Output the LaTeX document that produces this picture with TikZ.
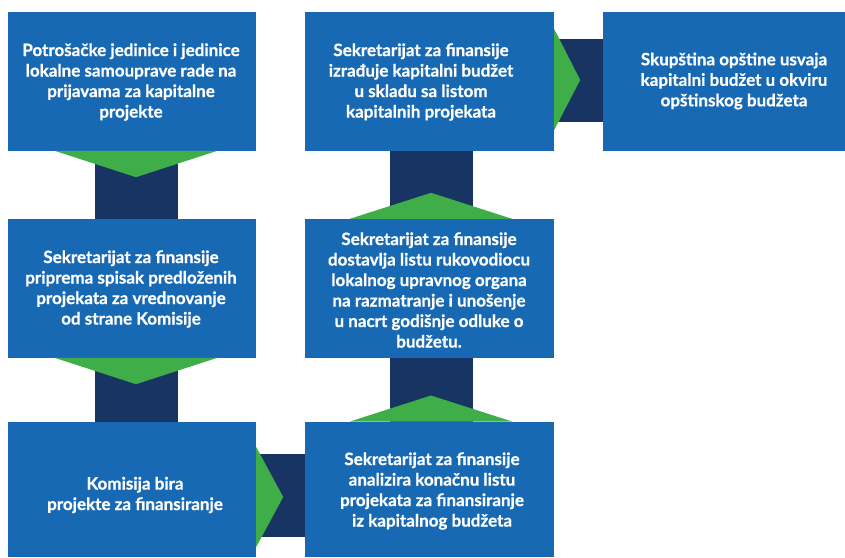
\documentclass[tikz,border=0pt]{standalone}
\usepackage{fontspec}
\setmainfont{Lato}[BoldFeatures={FakeBold=0.8}]
\definecolor{boxblue}{RGB}{23,105,179}
\definecolor{navy}{RGB}{24,52,99}
\definecolor{arrgreen}{RGB}{63,174,73}
\tikzset{
  stepbox/.style={fill=boxblue, draw=none, inner sep=0pt, text=white, align=center,
    font=\fontsize{17}{20.5}\selectfont\bfseries},
  link/.style={fill=navy, draw=none},
  tip/.style={fill=arrgreen, draw=none}
}
\begin{document}
\begin{tikzpicture}[x=1pt,y=-1pt]
\clip (0,0) rectangle (845,557);
\fill[white] (0,0) rectangle (845,557);
% connectors (navy bars)
\fill[link] (95,150) rectangle (178,220);
\fill[link] (95,357) rectangle (178,423);
\fill[link] (255,454) rectangle (306,537);
\fill[link] (390,357) rectangle (473,423);
\fill[link] (390,150) rectangle (473,220);
\fill[link] (553,39) rectangle (604,122);
% boxes
\node[stepbox, minimum width=248pt, minimum height=138.7pt] (b1) at (132,81.35) {};
\node[stepbox, minimum width=248pt, minimum height=138.7pt] (b2) at (132,288.35) {};
\node[stepbox, minimum width=248pt, minimum height=135.3pt] (b3) at (132,489.35) {};
\node[stepbox, minimum width=249pt, minimum height=135.3pt] (b4) at (429.5,489.35) {};
\node[stepbox, minimum width=249pt, minimum height=138.7pt] (b5) at (429.5,288.35) {};
\node[stepbox, minimum width=249pt, minimum height=138.7pt] (b6) at (429.5,81.35) {};
\node[stepbox, minimum width=262pt, minimum height=138.7pt] (b7) at (734,81.35) {};
% texts
\node[stepbox, fill=none] (t1) at (131,82) {Potrošačke jedinice i jedinice\\lokalne samouprave rade na\\prijavama za kapitalne\\projekte};
\node[stepbox, fill=none] (t2) at (131,289) {Sekretarijat za finansije\\priprema spisak predloženih\\projekata za vrednovanje\\od strane Komisije};
\node[stepbox, fill=none] (t3) at (135,495) {Komisija bira\\projekte za finansiranje};
\node[stepbox, fill=none] (t4) at (432,491) {Sekretarijat za finansije\\analizira konačnu listu\\projekata za finansiranje\\iz kapitalnog budžeta};
\node[stepbox, fill=none] (t5) at (429,290) {Sekretarijat za finansije\\dostavlja listu rukovodiocu\\lokalnog upravnog organa\\na razmatranje i unošenje\\u nacrt godišnje odluke o\\budžetu.};
\node[stepbox, fill=none] (t6) at (421,82) {Sekretarijat za finansije\\izrađuje kapitalni budžet\\u skladu sa listom\\kapitalnih projekata};
\node[stepbox, fill=none] (t7) at (734,81) {Skupština opštine usvaja\\kapitalni budžet u okviru\\opštinskog budžeta};
% green arrow tips
\fill[tip] ([xshift=-77pt]b1.south) -- ([xshift=85pt]b1.south) -- ([xshift=4pt,yshift=-26.3pt]b1.south) -- cycle;
\fill[tip] ([xshift=-77pt]b2.south) -- ([xshift=85pt]b2.south) -- ([xshift=4pt,yshift=-26.3pt]b2.south) -- cycle;
\fill[tip] ([yshift=42.35pt]b3.east) -- ([yshift=-57.65pt]b3.east) -- ([xshift=27pt,yshift=-7.65pt]b3.east) -- cycle;
\fill[tip] ([xshift=-79.5pt]b4.north) -- ([xshift=82.5pt]b4.north) -- ([xshift=1.5pt,yshift=26pt]b4.north) -- cycle;
\fill[tip] ([xshift=-79.5pt]b5.north) -- ([xshift=82.5pt]b5.north) -- ([xshift=1.5pt,yshift=26pt]b5.north) -- cycle;
\fill[tip] ([yshift=52.35pt]b6.east) -- ([yshift=-48.65pt]b6.east) -- ([xshift=26pt,yshift=1.35pt]b6.east) -- cycle;
\end{tikzpicture}
\end{document}
